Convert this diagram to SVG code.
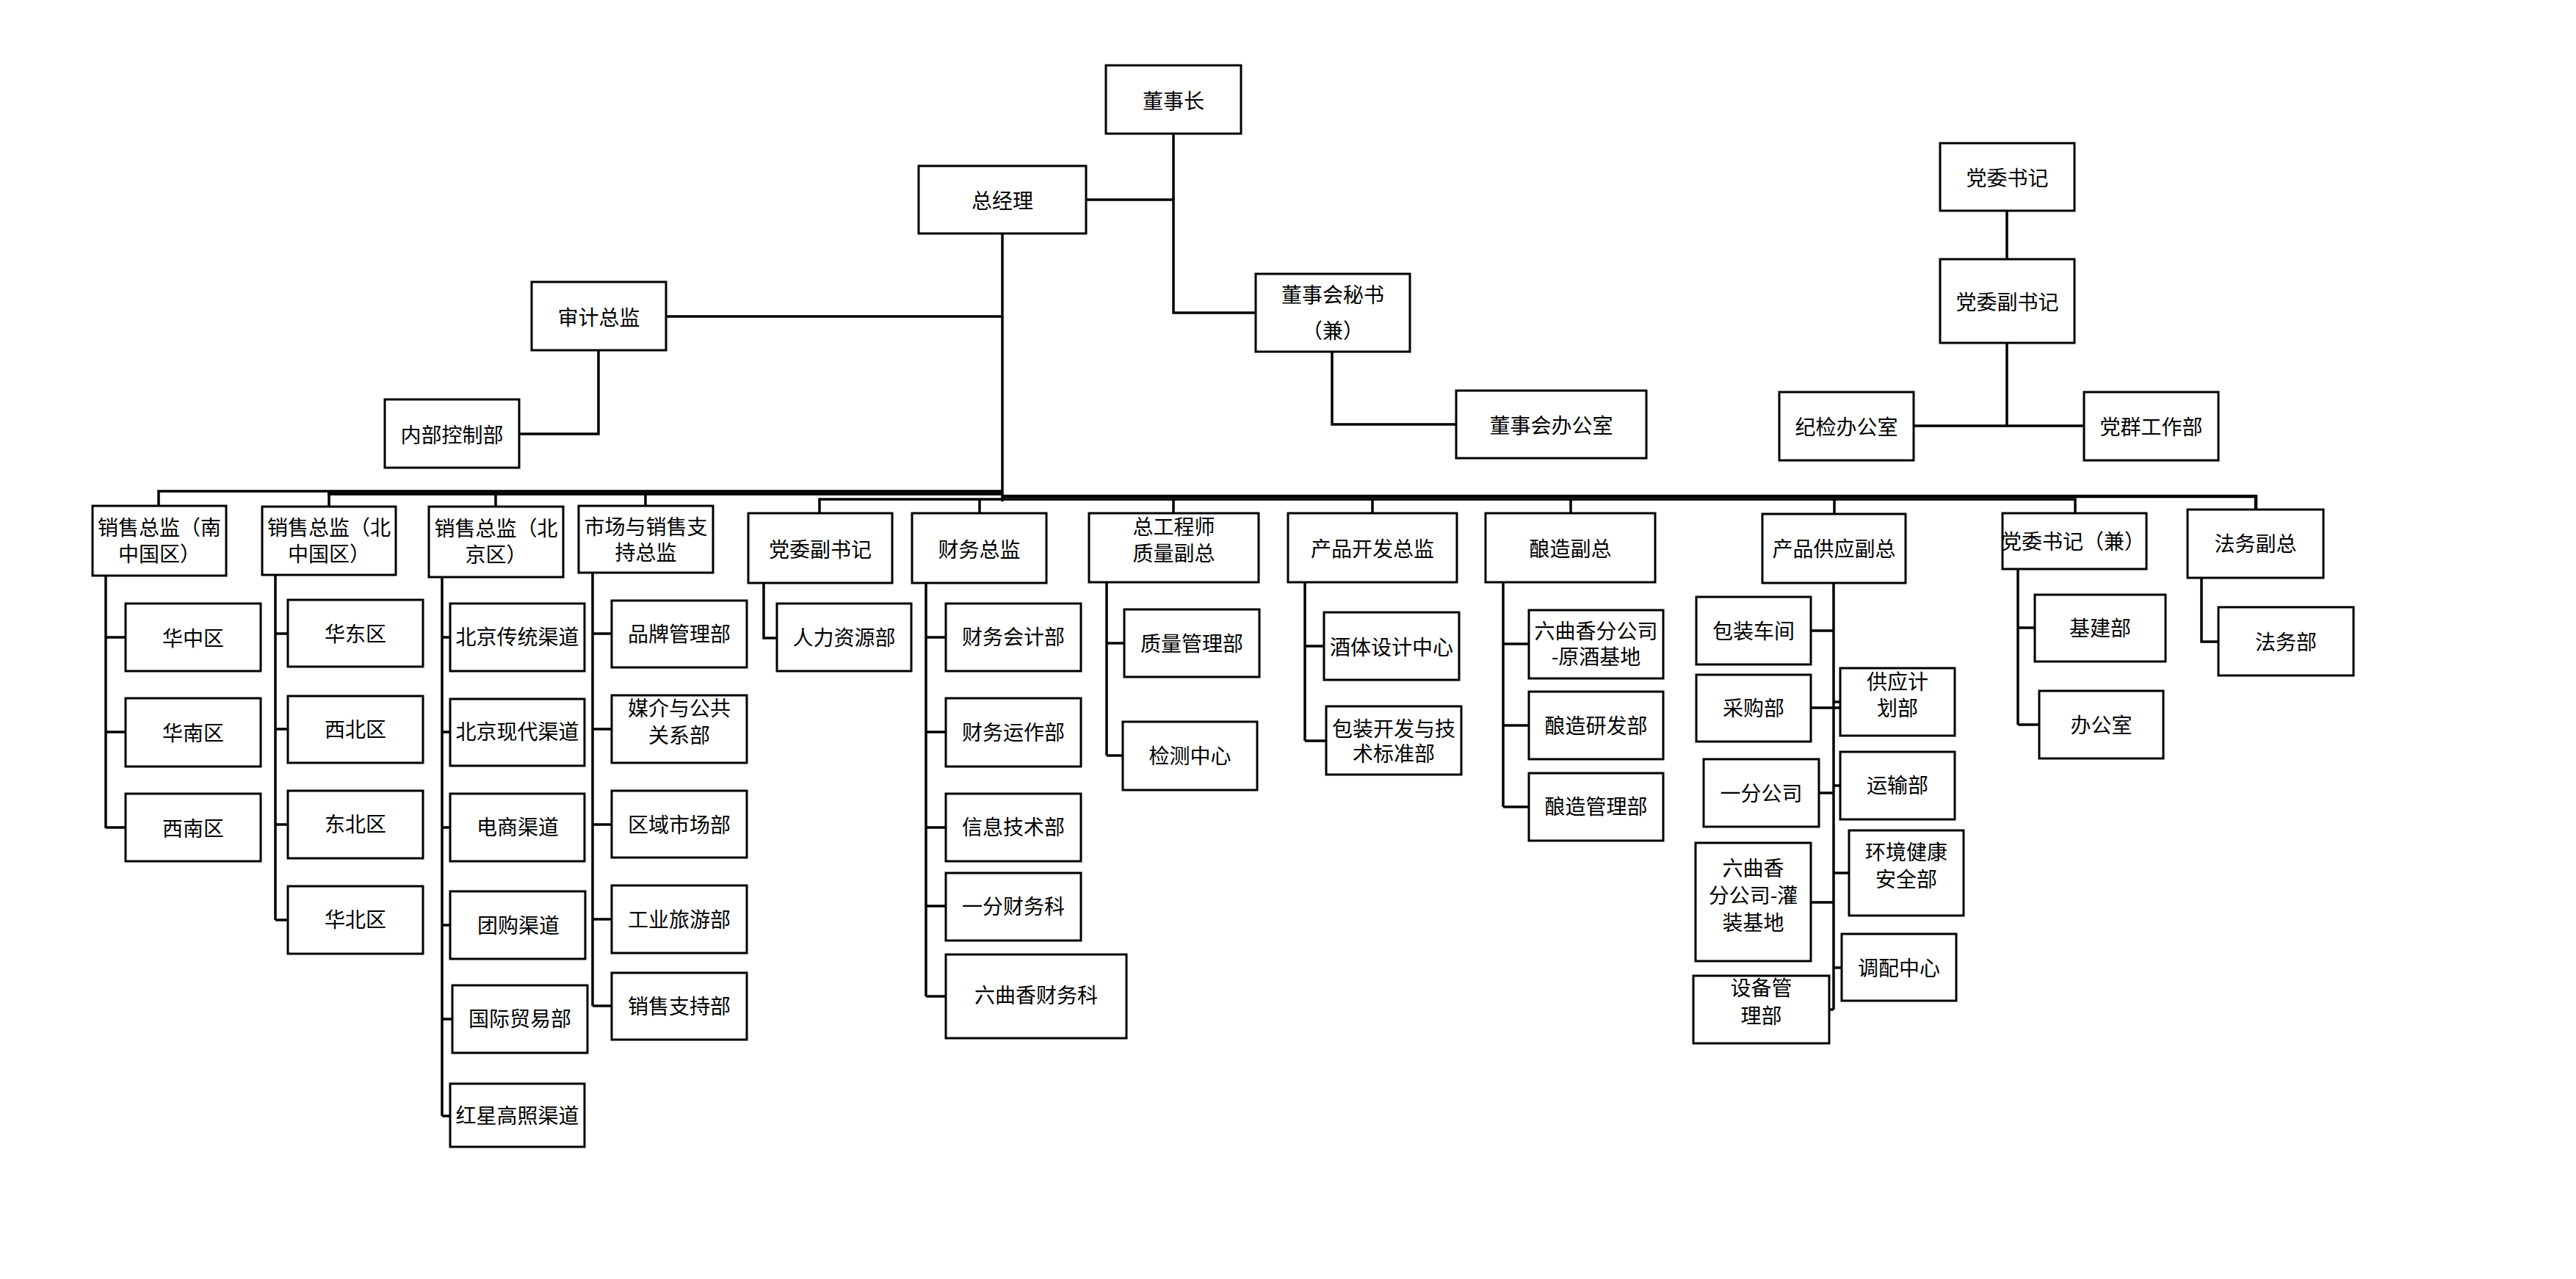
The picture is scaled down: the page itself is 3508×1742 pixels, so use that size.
<svg xmlns="http://www.w3.org/2000/svg" width="3508" height="1742" viewBox="0 0 3508 1742">
<style>
.box{fill:#fff;stroke:#000;stroke-width:3}
.t{font-family:"Noto Sans CJK SC","Noto Sans",sans-serif;font-size:28px;text-anchor:middle;dominant-baseline:central;fill:#000}
.c{fill:none;stroke:#000;stroke-width:3.5}
.cb{fill:none;stroke:#000;stroke-width:4.5}
</style>
<rect width="3508" height="1742" fill="#fff"/>
<g id="connectors">
<path class="c" d="M1598,182V426H1710M1479,272H1598"/>
<path class="c" d="M1814,479V578H1983"/>
<path class="c" d="M1365,318V683M907,431H1365M815,477V591H707"/>
<path class="c" d="M2733,287V353M2733,467V580M2606,580H2838"/>
<path class="c" d="M216,689V669H1365M448,690V670M675,690V670M879,689V670"/>
<path class="cb" d="M446,672.5H1365"/>
<path class="cb" d="M1365,676H3072V694"/>
<path class="c" d="M1116,699V680H2826V699M1334,680V699M1598,680V699M1869,680V699M2139,680V699M2498,680V700"/>
<path class="c" d="M144,784V1128M144,868H171M144,997H171M144,1127H171"/>
<path class="c" d="M375,783V1253M375,863H392M375,993H392M375,1123H392M375,1253H392"/>
<path class="c" d="M602,786V1520M602,868H613M602,997H613M602,1127H613M602,1260H613M602,1388H616M602,1520H613"/>
<path class="c" d="M807,780V1370M807,863H833M807,993H833M807,1123H833M807,1252H833M807,1370H833"/>
<path class="c" d="M1040,794V869H1058"/>
<path class="c" d="M1261,794V1357M1261,868H1288M1261,997H1288M1261,1127H1288M1261,1234H1288M1261,1357H1288"/>
<path class="c" d="M1507,793V1029M1507,876H1531M1507,1029H1529"/>
<path class="c" d="M1777,793V1009M1777,880H1803M1777,1009H1806"/>
<path class="c" d="M2047,793V1099M2047,877H2082M2047,988H2082M2047,1099H2082"/>
<path class="c" d="M2497,794V1375M2466,859H2497M2466,964H2506M2477,1080H2497M2466,1229H2497M2491,1375H2497M2497,956H2506M2497,1070H2506M2497,1189H2518M2497,1318H2508"/>
<path class="c" d="M2748,775V987M2748,855H2771M2748,987H2777"/>
<path class="c" d="M2998,787V874H3021"/>
</g>
<g id="n-dongshizhang"><rect class="box" x="1506" y="89" width="184" height="93"/><text class="t" x="1598" y="135.5">董事长</text></g>
<g id="n-zongjingli"><rect class="box" x="1251" y="226" width="228" height="92"/><text class="t" x="1365" y="272">总经理</text></g>
<g id="n-shenji"><rect class="box" x="724" y="384" width="183" height="93"/><text class="t" x="815.5" y="430.5">审计总监</text></g>
<g id="n-neibukongzhi"><rect class="box" x="524" y="544" width="183" height="93"/><text class="t" x="615.5" y="590.5">内部控制部</text></g>
<g id="n-mishu"><rect class="box" x="1710" y="373" width="210" height="106"/><text class="t" x="1815" y="400">董事会秘书</text><text class="t" x="1815" y="449">（兼）</text></g>
<g id="n-dongban"><rect class="box" x="1983" y="532" width="259" height="92"/><text class="t" x="2112.5" y="578">董事会办公室</text></g>
<g id="n-dangwei"><rect class="box" x="2642" y="195" width="183" height="92"/><text class="t" x="2733.5" y="241">党委书记</text></g>
<g id="n-dangweifu-top"><rect class="box" x="2642" y="353" width="183" height="114"/><text class="t" x="2733.5" y="410">党委副书记</text></g>
<g id="n-jijian"><rect class="box" x="2423" y="534" width="183" height="93"/><text class="t" x="2514.5" y="580">纪检办公室</text></g>
<g id="n-dangqun"><rect class="box" x="2838" y="534" width="183" height="93"/><text class="t" x="2929.5" y="580">党群工作部</text></g>

<g id="n-xs-nan"><rect class="box" x="126" y="689" width="182" height="95"/><text class="t" x="217" y="717">销售总监（南</text><text class="t" x="217" y="753">中国区）</text></g>
<g id="n-xs-bei"><rect class="box" x="357" y="690" width="182" height="93"/><text class="t" x="448" y="717">销售总监（北</text><text class="t" x="448" y="753">中国区）</text></g>
<g id="n-xs-bj"><rect class="box" x="584" y="690" width="183" height="96"/><text class="t" x="675.5" y="718">销售总监（北</text><text class="t" x="675.5" y="754">京区）</text></g>
<g id="n-shichang"><rect class="box" x="788" y="689" width="183" height="91"/><text class="t" x="879.5" y="716">市场与销售支</text><text class="t" x="879.5" y="751">持总监</text></g>
<g id="n-dangweifu"><rect class="box" x="1019" y="699" width="196" height="95"/><text class="t" x="1117" y="746.5">党委副书记</text></g>
<g id="n-caiwu"><rect class="box" x="1242" y="699" width="183" height="95"/><text class="t" x="1333.5" y="746.5">财务总监</text></g>
<g id="n-zonggong"><rect class="box" x="1483" y="699" width="231" height="94"/><text class="t" x="1598.5" y="716">总工程师</text><text class="t" x="1598.5" y="752">质量副总</text></g>
<g id="n-chanpinkaifa"><rect class="box" x="1754" y="699" width="230" height="94"/><text class="t" x="1869" y="746">产品开发总监</text></g>
<g id="n-niangzao"><rect class="box" x="2023" y="699" width="231" height="94"/><text class="t" x="2138.5" y="746">酿造副总</text></g>
<g id="n-gongying"><rect class="box" x="2400" y="700" width="195" height="94"/><text class="t" x="2497.5" y="746">产品供应副总</text></g>
<g id="n-dangwei-jian"><rect class="box" x="2727" y="699" width="196" height="76"/><text class="t" x="2823" y="736">党委书记（兼）</text></g>
<g id="n-fawufu"><rect class="box" x="2979" y="694" width="185" height="93"/><text class="t" x="3071.5" y="739">法务副总</text></g>

<g id="n-huazhong"><rect class="box" x="171" y="822" width="184" height="92"/><text class="t" x="263" y="868">华中区</text></g>
<g id="n-huanan"><rect class="box" x="171" y="951" width="184" height="93"/><text class="t" x="263" y="997">华南区</text></g>
<g id="n-xinan"><rect class="box" x="171" y="1081" width="184" height="92"/><text class="t" x="263" y="1127">西南区</text></g>

<g id="n-huadong"><rect class="box" x="392" y="817" width="184" height="91"/><text class="t" x="484" y="862">华东区</text></g>
<g id="n-xibei"><rect class="box" x="392" y="948" width="184" height="91"/><text class="t" x="484" y="992">西北区</text></g>
<g id="n-dongbei"><rect class="box" x="392" y="1077" width="184" height="92"/><text class="t" x="484" y="1121">东北区</text></g>
<g id="n-huabei"><rect class="box" x="392" y="1207" width="184" height="92"/><text class="t" x="484" y="1251">华北区</text></g>

<g id="n-bjct"><rect class="box" x="613" y="822" width="183" height="92"/><text class="t" x="704.5" y="866">北京传统渠道</text></g>
<g id="n-bjxd"><rect class="box" x="613" y="952" width="183" height="91"/><text class="t" x="704.5" y="995">北京现代渠道</text></g>
<g id="n-dianshang"><rect class="box" x="613" y="1081" width="183" height="92"/><text class="t" x="705" y="1125">电商渠道</text></g>
<g id="n-tuangou"><rect class="box" x="613" y="1214" width="184" height="92"/><text class="t" x="706" y="1259">团购渠道</text></g>
<g id="n-guoji"><rect class="box" x="616" y="1342" width="184" height="92"/><text class="t" x="708" y="1386">国际贸易部</text></g>
<g id="n-hongxing"><rect class="box" x="613" y="1476" width="183" height="86"/><text class="t" x="704.5" y="1518">红星高照渠道</text></g>

<g id="n-pinpai"><rect class="box" x="833" y="818" width="184" height="91"/><text class="t" x="925" y="862">品牌管理部</text></g>
<g id="n-meijie"><rect class="box" x="833" y="947" width="184" height="92"/><text class="t" x="925" y="963">媒介与公共</text><text class="t" x="925" y="1000">关系部</text></g>
<g id="n-quyu"><rect class="box" x="833" y="1077" width="184" height="91"/><text class="t" x="925" y="1122">区域市场部</text></g>
<g id="n-gongye"><rect class="box" x="833" y="1206" width="184" height="92"/><text class="t" x="925" y="1251">工业旅游部</text></g>
<g id="n-xiaoshouzhichi"><rect class="box" x="833" y="1325" width="184" height="91"/><text class="t" x="925" y="1369">销售支持部</text></g>

<g id="n-renli"><rect class="box" x="1058" y="822" width="183" height="92"/><text class="t" x="1149.5" y="867">人力资源部</text></g>

<g id="n-cwkj"><rect class="box" x="1288" y="822" width="184" height="92"/><text class="t" x="1380" y="866">财务会计部</text></g>
<g id="n-cwyz"><rect class="box" x="1288" y="951" width="184" height="93"/><text class="t" x="1380" y="996">财务运作部</text></g>
<g id="n-xinxi"><rect class="box" x="1288" y="1081" width="184" height="92"/><text class="t" x="1380" y="1125">信息技术部</text></g>
<g id="n-yifencw"><rect class="box" x="1288" y="1189" width="184" height="92"/><text class="t" x="1380" y="1233">一分财务科</text></g>
<g id="n-lqxcw"><rect class="box" x="1288" y="1300" width="246" height="114"/><text class="t" x="1411" y="1354">六曲香财务科</text></g>

<g id="n-zhiliang"><rect class="box" x="1531" y="830" width="184" height="92"/><text class="t" x="1623" y="875">质量管理部</text></g>
<g id="n-jiance"><rect class="box" x="1529" y="983" width="183" height="93"/><text class="t" x="1620.5" y="1028">检测中心</text></g>

<g id="n-jiuti"><rect class="box" x="1803" y="834" width="184" height="92"/><text class="t" x="1895" y="880">酒体设计中心</text></g>
<g id="n-baozhuangkf"><rect class="box" x="1806" y="962" width="184" height="93"/><text class="t" x="1898" y="991">包装开发与技</text><text class="t" x="1898" y="1025">术标准部</text></g>

<g id="n-yuanjiu"><rect class="box" x="2082" y="831" width="183" height="93"/><text class="t" x="2173.5" y="858">六曲香分公司</text><text class="t" x="2173.5" y="893">-原酒基地</text></g>
<g id="n-nzyf"><rect class="box" x="2082" y="942" width="183" height="92"/><text class="t" x="2173.5" y="987">酿造研发部</text></g>
<g id="n-nzgl"><rect class="box" x="2082" y="1053" width="183" height="92"/><text class="t" x="2173.5" y="1097">酿造管理部</text></g>

<g id="n-baozhuangcj"><rect class="box" x="2310" y="813" width="156" height="92"/><text class="t" x="2388" y="858">包装车间</text></g>
<g id="n-caigou"><rect class="box" x="2310" y="919" width="156" height="91"/><text class="t" x="2388" y="963">采购部</text></g>
<g id="n-yifen"><rect class="box" x="2320" y="1034" width="157" height="92"/><text class="t" x="2398.5" y="1079">一分公司</text></g>
<g id="n-guanzhuang"><rect class="box" x="2309" y="1148" width="157" height="161"/><text class="t" x="2387.5" y="1181">六曲香</text><text class="t" x="2387.5" y="1218">分公司-灌</text><text class="t" x="2387.5" y="1255">装基地</text></g>
<g id="n-shebei"><rect class="box" x="2306" y="1329" width="185" height="92"/><text class="t" x="2398.5" y="1344">设备管</text><text class="t" x="2398.5" y="1382">理部</text></g>
<g id="n-gongyingjh"><rect class="box" x="2506" y="910" width="156" height="92"/><text class="t" x="2584" y="927">供应计</text><text class="t" x="2584" y="963">划部</text></g>
<g id="n-yunshu"><rect class="box" x="2506" y="1024" width="156" height="92"/><text class="t" x="2584" y="1068">运输部</text></g>
<g id="n-huanjing"><rect class="box" x="2518" y="1131" width="156" height="116"/><text class="t" x="2596" y="1159">环境健康</text><text class="t" x="2596" y="1196">安全部</text></g>
<g id="n-tiaopei"><rect class="box" x="2508" y="1272" width="156" height="91"/><text class="t" x="2586" y="1317">调配中心</text></g>

<g id="n-jijian2"><rect class="box" x="2771" y="810" width="178" height="91"/><text class="t" x="2860" y="854">基建部</text></g>
<g id="n-bangongshi"><rect class="box" x="2777" y="941" width="169" height="92"/><text class="t" x="2861.5" y="986">办公室</text></g>
<g id="n-fawu"><rect class="box" x="3021" y="827" width="184" height="93"/><text class="t" x="3113" y="873">法务部</text></g>
</svg>
